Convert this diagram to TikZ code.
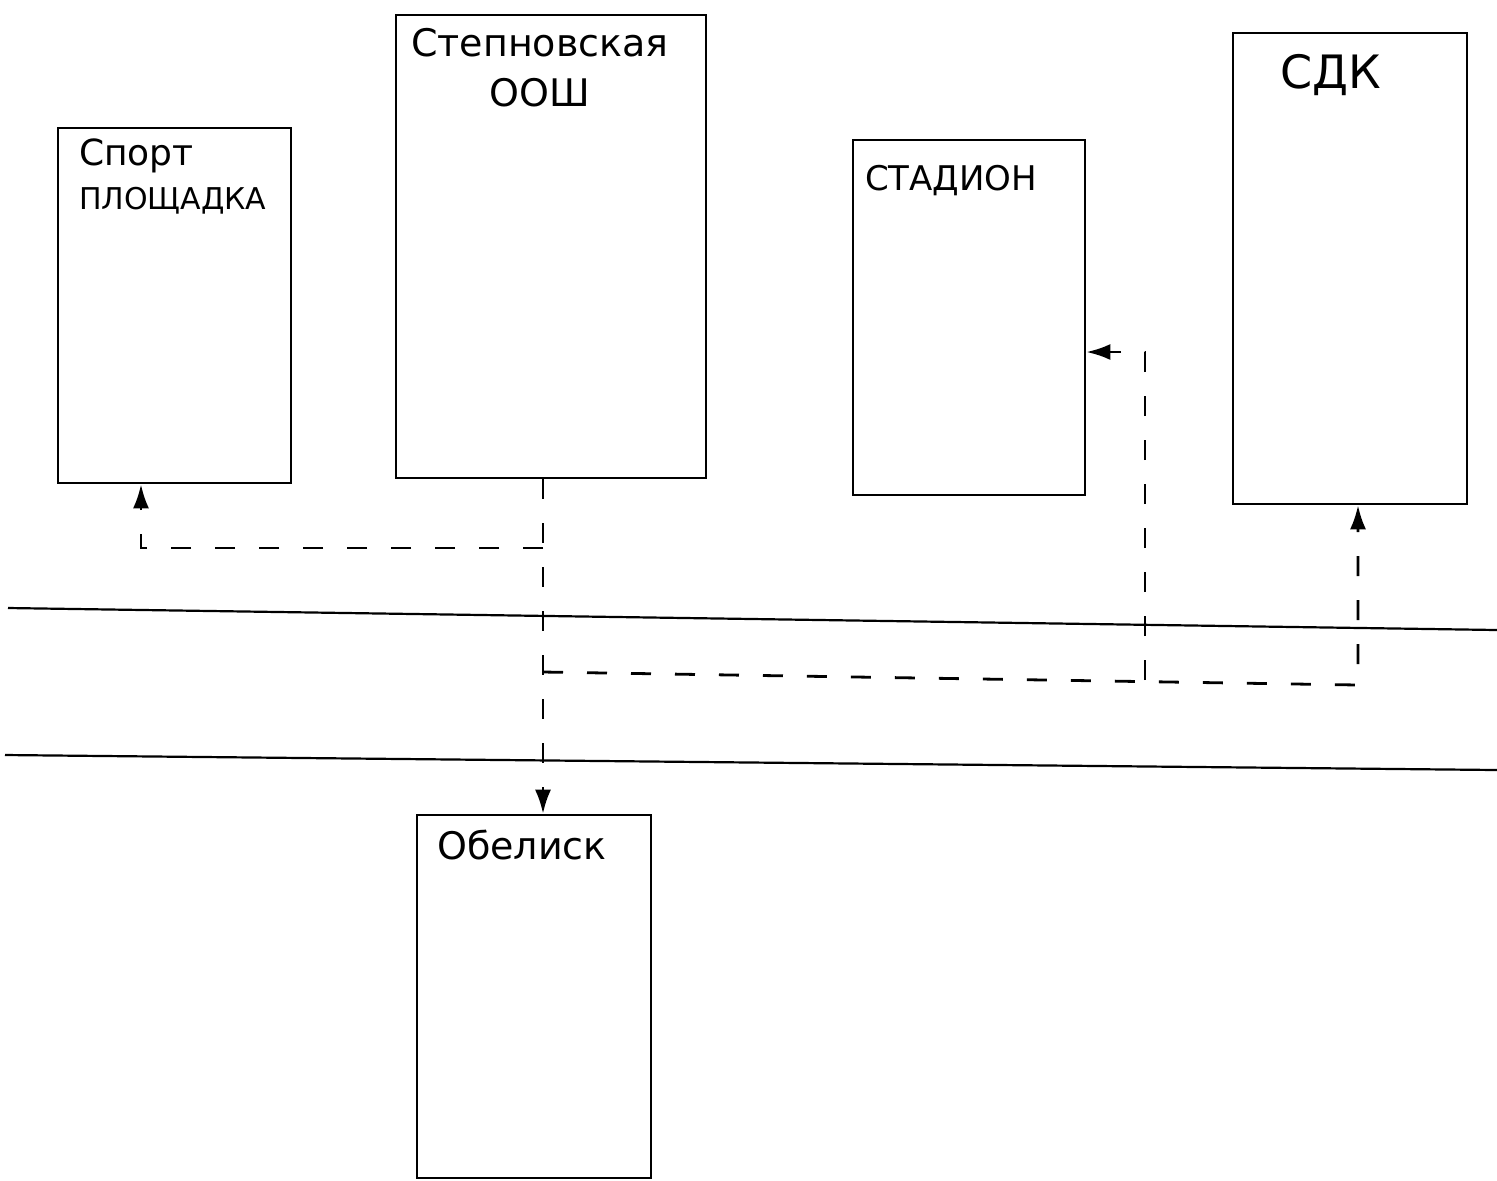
\documentclass[tikz,border=0pt]{standalone}
\usepackage{fontspec}
\setmainfont{DejaVu Sans}
\usetikzlibrary{positioning,arrows.meta}
\begin{document}
\begin{tikzpicture}[x=0.5pt, y=-0.5pt]
	\tikzstyle{house} = [rectangle, draw=black, line width=1.3pt, inner sep=0pt]
	\tikzstyle{caption} = [inner sep=0pt, anchor=north west, font=\fontsize{17}{24}\selectfont]
	\tikzstyle{road} = [line width=1.1pt]
	\tikzstyle{route} = [line width=1.4pt, dash pattern=on 10pt off 12pt, -{Latex[length=12pt,width=8pt]}]

	\useasboundingbox (0,0) rectangle (1497,1180);

	\foreach \name/\x/\y/\w/\h in {sport/174.5/305.5/116.5/177.5, school/551/246.5/155/231.5, stadium/969/317.5/116/177.5, sdk/1350/268.5/117/235.5, obelisk/534/996.5/117/181.5}
		\node[house, minimum width=\w pt, minimum height=\h pt] (\name) at (\x, \y) {};

	\node[caption, align=left, font=\fontsize{15}{22}\selectfont, below right=6pt and 11pt of sport.north west] (sporttext) {{\fontsize{18}{22}\selectfont Спорт}\\ПЛОЩАДКА};
	\node[caption, align=center, font=\fontsize{19}{25}\selectfont, below right=7pt and 8pt of school.north west] (schooltext) {Степновская\\ООШ};
	\node[caption, below right=13pt and 6.5pt of stadium.north west] (stadiumtext) {СТАДИОН};
	\node[caption, font=\fontsize{23}{28}\selectfont, below right=11pt and 24pt of sdk.north west] (sdktext) {СДК};
	\node[caption, font=\fontsize{19}{24}\selectfont, below right=8pt and 10.5pt of obelisk.north west] (obelisktext) {Обелиск};

	% roads
	\coordinate (r1a) at (8, 608);
	\coordinate (r1b) at (1497, 630);
	\coordinate (r2a) at (5, 755);
	\coordinate (r2b) at (1497, 770);
	\draw[road] (r1a) -- (r1b);
	\draw[road] (r2a) -- (r2b);

	% routes
	\coordinate (j1) at (543, 548);
	\coordinate (j2) at (543, 672);
	\coordinate (sp) at (141, 548);
	\coordinate (dk) at (1358, 685);
	\coordinate (st0) at (1145, 680);
	\coordinate (st) at (1145, 352);

	\draw[route] (school.south -| j1) -- (obelisk.north -| j1);
	\draw[route] (j1) -- (sp) -- (sport.south -| sp);
	\draw[route] (j2) -- (dk) -- (sdk.south -| dk);
	\draw[route] (st0) -- (st) -- (stadium.east |- st);
\end{tikzpicture}
\end{document}
